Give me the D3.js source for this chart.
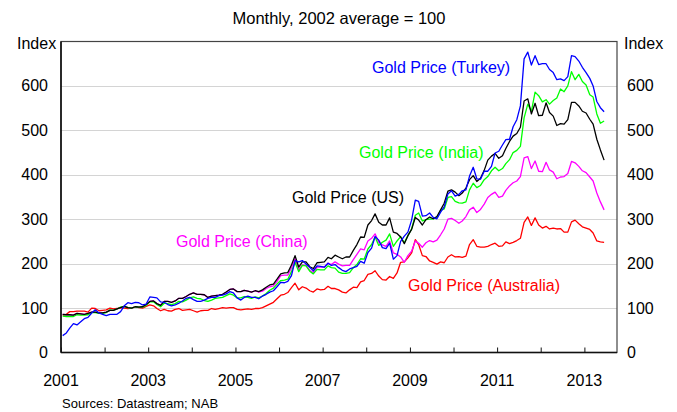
<!DOCTYPE html>
<html>
<head>
<meta charset="utf-8">
<script src="https://cdn.jsdelivr.net/npm/d3@7"></script>
<style>
  html, body { margin: 0; padding: 0; background: #fff; }
  svg { display: block; font-family: Arial, "Liberation Sans", sans-serif; }
</style>
</head>
<body>
<svg id="chart" width="677" height="412"></svg>
<script>
// ---- Data (monthly index, 2002 average = 100), Jan 2001 .. Jun 2013 ----
const firstMonth = [2001, 0];   // Jan 2001
const monthCount = 150;         // through Jun 2013

const usValues = [
  86,85,85,84,88,87,86,88,91,91,89,89,
  91,95,95,98,101,104,101,100,103,102,103,108,
  115,116,110,106,115,115,113,116,122,122,126,131,
  134,131,131,130,124,127,128,129,131,136,142,143,
  137,137,140,138,136,139,137,141,147,152,154,165,
  177,179,180,197,218,192,204,204,193,189,202,203,
  204,214,211,219,215,211,215,215,230,243,260,259,
  287,297,312,293,287,287,303,271,268,260,245,263,
  277,304,298,287,299,305,301,306,321,336,363,366,
  361,353,359,370,389,398,385,392,410,433,442,448,
  437,443,459,475,487,493,507,566,571,537,561,533,
  534,562,540,532,511,515,514,524,563,563,555,543,
  539,525,514,480,456,433
];
const australiaValues = [
  84,86,92,92,93,93,93,91,100,99,94,95,
  96,100,98,99,101,100,99,100,103,101,100,104,
  107,105,99,94,97,94,93,97,99,95,96,97,
  94,91,94,95,95,99,97,99,101,100,101,101,
  97,96,97,98,97,99,99,101,105,109,113,121,
  129,131,135,146,156,141,148,145,139,136,143,141,
  142,149,144,144,141,136,134,141,147,146,159,162,
  176,178,184,172,164,163,171,167,179,203,204,213,
  224,254,243,218,216,206,203,199,204,202,215,220,
  215,216,214,217,243,254,239,237,237,239,243,246,
  239,240,249,245,248,252,257,293,305,286,303,287,
  280,284,278,280,278,279,271,271,294,298,290,283,
  280,277,269,251,249,248
];
const chinaValues = [
  86,85,85,84,88,87,86,88,91,91,89,89,
  91,95,95,98,101,104,101,100,103,102,103,108,
  115,116,110,106,115,115,113,116,122,122,126,131,
  134,131,131,130,124,127,128,129,131,136,142,143,
  137,137,140,138,136,139,136,138,144,148,150,160,
  173,174,174,191,211,186,197,196,185,180,192,192,
  192,201,198,204,199,195,196,196,209,221,233,231,
  251,257,267,248,242,239,251,224,221,215,203,218,
  228,251,246,237,247,252,249,253,265,278,300,302,
  297,291,296,306,321,327,315,322,334,349,356,361,
  349,352,365,375,382,386,396,438,441,414,431,408,
  407,428,411,406,391,395,396,403,430,427,419,409,
  405,395,386,359,339,321
];
const indiaValues = [
  82,81,81,81,85,84,84,85,90,90,88,88,
  90,96,95,98,102,104,101,100,103,102,102,106,
  114,114,108,103,111,110,108,110,115,114,118,123,
  125,122,121,117,115,118,122,123,124,128,132,129,
  123,123,126,124,122,125,123,127,133,140,145,154,
  162,163,165,182,203,182,196,195,183,177,187,186,
  186,195,191,190,181,178,178,180,191,198,211,210,
  233,243,260,241,248,253,267,239,251,261,247,263,
  278,309,314,296,299,300,301,304,320,323,349,351,
  340,337,336,339,366,381,371,376,389,396,409,417,
  409,414,425,434,450,455,464,528,559,543,586,578,
  564,569,559,567,573,593,587,600,632,614,626,610,
  602,580,575,537,516,521
];
const turkeyValues = [
  38,44,55,65,62,69,76,79,89,96,89,86,
  83,86,86,86,92,105,112,110,113,112,107,109,
  125,124,123,114,113,108,105,107,111,116,122,124,
  119,115,115,118,122,124,124,128,129,132,137,134,
  123,118,124,127,124,124,121,127,131,136,139,148,
  158,157,160,173,207,204,207,199,192,184,195,194,
  192,201,196,198,191,185,182,188,191,194,205,201,
  225,235,261,253,236,234,246,210,218,250,262,271,
  298,343,340,307,308,314,304,301,316,328,357,364,
  352,356,364,366,397,417,391,390,408,408,419,449,
  453,467,479,480,508,524,555,661,676,647,668,648,
  650,650,637,630,614,616,612,621,668,666,656,642,
  630,617,600,565,551,542
];

const seriesNames  = ["Gold Price (Australia)", "Gold Price (China)", "Gold Price (India)", "Gold Price (US)", "Gold Price (Turkey)"];
const seriesColors = ["#ff0000", "#ff00ff", "#00ff00", "#000000", "#0000ff"];
const seriesData   = [australiaValues, chinaValues, indiaValues, usValues, turkeyValues];

const yTicks = [0, 100, 200, 300, 400, 500, 600];
const xLabelYears = [2001, 2003, 2005, 2007, 2009, 2011, 2013];
const titleText = "Monthly, 2002 average = 100";
const sourceText = "Sources: Datastream; NAB";
const axisTitle = "Index";

// ---- Layout ----
const svg = d3.select("#chart");
const L = 61, R = 617, T = 41.5, B = 352.5;

const months = d3.range(monthCount).map(i => new Date(firstMonth[0], firstMonth[1] + i, 15));

const x = d3.scaleTime()
  .domain([new Date(2001, 0, 1), new Date(2013, 9, 1)])
  .range([L, R]);
const y = d3.scaleLinear().domain([0, 700]).range([B, T]);

// gridlines
svg.append("g").selectAll("line")
  .data(yTicks.filter(d => d > 0))
  .join("line")
  .attr("x1", L).attr("x2", R)
  .attr("y1", d => Math.round(y(d)) + 0.5).attr("y2", d => Math.round(y(d)) + 0.5)
  .attr("stroke", "#d4d4d4").attr("stroke-width", 1.2);

// plot frame
svg.append("rect")
  .attr("x", L).attr("y", T).attr("width", R - L).attr("height", B - T)
  .attr("fill", "none").attr("stroke", "#444").attr("stroke-width", 1.2);
svg.append("line").attr("x1", L).attr("x2", L).attr("y1", T).attr("y2", B)
  .attr("stroke", "#111").attr("stroke-width", 1.6);
svg.append("line").attr("x1", L).attr("x2", R).attr("y1", B).attr("y2", B)
  .attr("stroke", "#111").attr("stroke-width", 1.6);

// x ticks (yearly, inward)
const xAxis = d3.axisTop(x)
  .ticks(d3.timeYear.every(1))
  .tickSize(5)
  .tickFormat("");
const gx = svg.append("g").attr("transform", `translate(0,${B})`).call(xAxis);
gx.select(".domain").remove();
gx.selectAll(".tick line").attr("stroke", "#111").attr("stroke-width", 1);

// x labels
svg.append("g").selectAll("text")
  .data(xLabelYears)
  .join("text")
  .attr("x", d => x(new Date(d, 0, 1)))
  .attr("y", 380)
  .attr("text-anchor", "middle")
  .attr("dominant-baseline", "central")
  .attr("font-size", 16)
  .text(d => d);

// y labels left & right
const yl = svg.append("g");
yl.selectAll("text.l").data(yTicks).join("text").attr("class", "l")
  .attr("x", 48).attr("y", d => y(d))
  .attr("text-anchor", "end").attr("dominant-baseline", "central")
  .attr("font-size", 16).text(d => d);
yl.selectAll("text.r").data(yTicks).join("text").attr("class", "r")
  .attr("x", 627).attr("y", d => y(d))
  .attr("text-anchor", "start").attr("dominant-baseline", "central")
  .attr("font-size", 16).text(d => d);

svg.append("text").attr("x", 17).attr("y", 43).attr("dominant-baseline", "central")
  .attr("font-size", 16).text(axisTitle);
svg.append("text").attr("x", 624).attr("y", 43).attr("dominant-baseline", "central")
  .attr("font-size", 16).text(axisTitle);

// title
svg.append("text").attr("x", 339).attr("y", 18)
  .attr("text-anchor", "middle").attr("dominant-baseline", "central")
  .attr("font-size", 16.5).text(titleText);

// source
svg.append("text").attr("x", 62).attr("y", 403)
  .attr("dominant-baseline", "central")
  .attr("font-size", 13).text(sourceText);

// lines
const line = d3.line()
  .x((d, i) => x(months[i]))
  .y(d => y(d));

svg.append("g").selectAll("path")
  .data(seriesData)
  .join("path")
  .attr("fill", "none")
  .attr("stroke", (d, i) => seriesColors[i])
  .attr("stroke-width", 1.3)
  .attr("stroke-linejoin", "round")
  .attr("d", d => line(d));

// series labels
const labelPos = {
  "Gold Price (Turkey)":    [372, 67],
  "Gold Price (India)":     [359, 152],
  "Gold Price (US)":        [292, 197],
  "Gold Price (China)":     [176, 241],
  "Gold Price (Australia)": [408, 285]
};
svg.append("g").selectAll("text")
  .data(seriesNames)
  .join("text")
  .attr("x", d => labelPos[d][0])
  .attr("y", d => labelPos[d][1])
  .attr("dominant-baseline", "central")
  .attr("font-size", 16)
  .attr("fill", (d, i) => seriesColors[i])
  .text(d => d);
</script>
</body>
</html>
